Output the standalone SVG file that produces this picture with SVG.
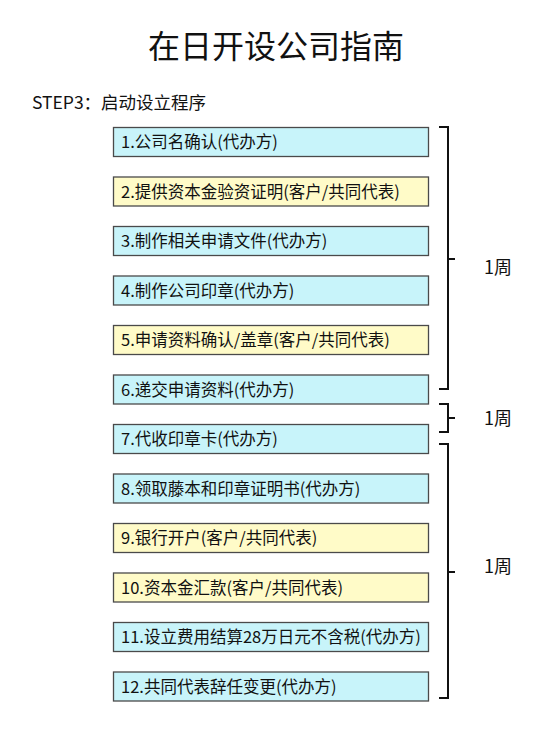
<svg xmlns="http://www.w3.org/2000/svg" width="553" height="737" viewBox="0 0 553 737">
<style>
text{font-family:"Noto Sans CJK SC","Noto Sans",sans-serif;fill:#111}
.t{font-size:32px}
.s{font-size:17.5px}
.b{stroke:#4a4a4a;stroke-width:1.3}
.c{fill:#c8f4fa}
.y{fill:#fffbc8}
.bt{font-size:16.5px}
.br{fill:none;stroke:#111;stroke-width:2}
.l{font-size:18px}
</style>
<rect width="553" height="737" fill="#fff"/>
<text class="t" x="276" y="58" text-anchor="middle">在日开设公司指南</text>
<text class="s" x="32" y="109">STEP3：启动设立程序</text>
<g id="n1"><rect class="b c" x="113.5" y="127.5" width="315" height="29"/><text class="bt" x="121" y="148">1.公司名确认(代办方)</text></g>
<g id="n2"><rect class="b y" x="113.5" y="177" width="315" height="29"/><text class="bt" x="121" y="197.5">2.提供资本金验资证明(客户/共同代表)</text></g>
<g id="n3"><rect class="b c" x="113.5" y="226.5" width="315" height="29"/><text class="bt" x="121" y="247">3.制作相关申请文件(代办方)</text></g>
<g id="n4"><rect class="b c" x="113.5" y="276" width="315" height="29"/><text class="bt" x="121" y="296.5">4.制作公司印章(代办方)</text></g>
<g id="n5"><rect class="b y" x="113.5" y="325.5" width="315" height="29"/><text class="bt" x="121" y="346">5.申请资料确认/盖章(客户/共同代表)</text></g>
<g id="n6"><rect class="b c" x="113.5" y="375" width="315" height="29"/><text class="bt" x="121" y="395.5">6.递交申请资料(代办方)</text></g>
<g id="n7"><rect class="b c" x="113.5" y="424.5" width="315" height="29"/><text class="bt" x="121" y="445">7.代收印章卡(代办方)</text></g>
<g id="n8"><rect class="b c" x="113.5" y="474" width="315" height="29"/><text class="bt" x="121" y="494.5">8.领取藤本和印章证明书(代办方)</text></g>
<g id="n9"><rect class="b y" x="113.5" y="523.5" width="315" height="29"/><text class="bt" x="121" y="544">9.银行开户(客户/共同代表)</text></g>
<g id="n10"><rect class="b y" x="113.5" y="573" width="315" height="29"/><text class="bt" x="121" y="593.5">10.资本金汇款(客户/共同代表)</text></g>
<g id="n11"><rect class="b c" x="113.5" y="622.5" width="315" height="29"/><text class="bt" x="121" y="643">11.设立费用结算28万日元不含税(代办方)</text></g>
<g id="n12"><rect class="b c" x="113.5" y="672" width="315" height="29"/><text class="bt" x="121" y="692.5">12.共同代表辞任变更(代办方)</text></g>
<g id="connectors">
<path class="br" d="M439 127 H448 V389 H439 M448 259 H455"/>
<path class="br" d="M439 404 H448 V432 H439 M448 418 H455"/>
<path class="br" d="M439 444 H448 V698 H439 M448 572 H455"/>
</g>
<text class="l" x="484" y="274">1周</text>
<text class="l" x="484" y="425">1周</text>
<text class="l" x="484" y="573">1周</text>
</svg>
